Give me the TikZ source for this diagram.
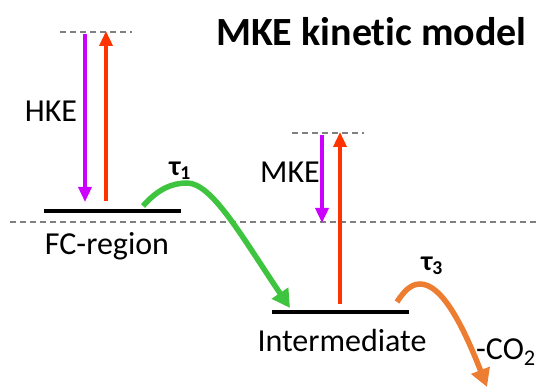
\documentclass[tikz,border=0pt]{standalone}
\usepackage{fontspec}
\setmainfont[Ligatures=NoCommon]{Carlito}
\usetikzlibrary{arrows.meta}
\definecolor{pur}{HTML}{CC00FF}
\definecolor{redo}{HTML}{FF3300}
\definecolor{grn}{HTML}{3EC43E}
\definecolor{org}{HTML}{ED7D31}
\tikzset{
  lbl/.style={font=\fontsize{32}{35}\selectfont, inner sep=0pt},
  taulbl/.style={font=\fontsize{28}{30}\selectfont\bfseries, inner sep=0pt},
  guide/.style={draw=gray, line width=1.2pt, dash pattern=on 6pt off 4pt},
  level/.style={draw=black, line width=4.5pt},
  vib/.style={line width=3.5pt, -{Triangle[width=13pt,length=15pt]}},
  flow/.style={line width=5.5pt, -{Triangle[width=19pt,length=18pt]}}
}
\begin{document}
\begin{tikzpicture}[x=1pt,y=-1pt]
\useasboundingbox (0,0) rectangle (536,387);
% title
\node[font=\fontsize{40}{44}\selectfont\bfseries, inner sep=0pt, anchor=east] (title) at (527,32) {MKE kinetic model};
% coordinates
\coordinate (d1a) at (60,32); \coordinate (d1b) at (132,32);
\coordinate (d2a) at (10,222); \coordinate (d2b) at (536,222);
\coordinate (d3a) at (292,133); \coordinate (d3b) at (364,133);
\coordinate (fca) at (44,211); \coordinate (fcb) at (181,211);
\coordinate (ima) at (272,312); \coordinate (imb) at (409,312);
\draw[guide] (d1a) -- (d1b);
\draw[guide] (d2a) -- (d2b);
\draw[guide] (d3a) -- (d3b);
\draw[level] (fca) -- (fcb);
\draw[level] (ima) -- (imb);
% HKE arrows
\coordinate (p1s) at (85,34); \coordinate (p1e) at (85,202);
\coordinate (r1s) at (106,201); \coordinate (r1e) at (106,31);
\draw[vib, draw=pur] (p1s) -- (p1e);
\draw[vib, draw=redo] (r1s) -- (r1e);
% MKE arrows
\coordinate (p2s) at (322,135); \coordinate (p2e) at (322,223);
\coordinate (r2s) at (340,304); \coordinate (r2e) at (340,132);
\draw[vib, draw=pur] (p2s) -- (p2e);
\draw[vib, draw=redo] (r2s) -- (r2e);
% labels
\node[lbl] (hke) at (51,111) {HKE};
\node[lbl] (mke) at (290,172) {MKE};
\node[lbl] (fc) at (107,246) {FC-region};
\node[lbl] (im) at (342,341) {Intermediate};
\node[lbl, anchor=west] (co2) at (476,352) {-CO\textsubscript{2}};
\node[taulbl] (t1) at (180,171) {τ\textsubscript{1}};
\node[taulbl] (t3) at (432,266) {τ\textsubscript{3}};
% green flow
\coordinate (g0) at (143,206);
\coordinate (g1) at (187,183);
\coordinate (g2) at (290,308);
\draw[flow, draw=grn] (g0) .. controls (158,189) and (172,183) .. (g1)
  .. controls (212,183) and (242,237) .. (g2);
% orange flow
\coordinate (o0) at (397,302);
\coordinate (o1) at (420,284);
\coordinate (o2) at (487,387);
\draw[flow, draw=org] (o0) .. controls (404,291) and (411,284) .. (o1)
  .. controls (440,284) and (460,318) .. (o2);
\end{tikzpicture}
\end{document}
